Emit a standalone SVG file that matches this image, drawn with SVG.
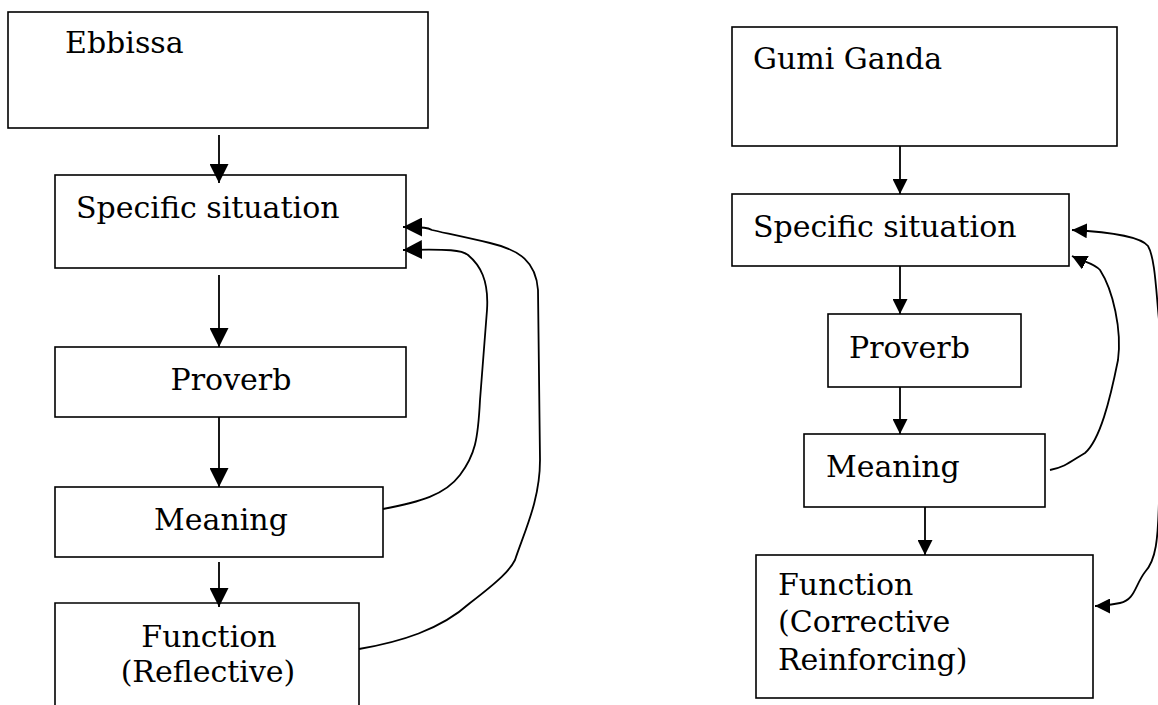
<svg xmlns="http://www.w3.org/2000/svg" width="1158" height="705" viewBox="0 0 1158 705">
<style>
.box{fill:#fff;stroke:#000;stroke-width:1.6}
.t{font-family:"DejaVu Serif","Liberation Serif",serif;font-size:30px;fill:#000}
.c{text-anchor:middle}
.ln{fill:none;stroke:#000;stroke-width:1.8}
</style>
<defs>
<marker id="ab" markerUnits="userSpaceOnUse" markerWidth="19" markerHeight="19" refX="19" refY="9.5" orient="auto-start-reverse"><path d="M0,0 L19,9.5 L0,19 z" fill="#000"/></marker>
<marker id="as" markerUnits="userSpaceOnUse" markerWidth="15" markerHeight="15" refX="15" refY="7.5" orient="auto-start-reverse"><path d="M0,0 L15,7.5 L0,15 z" fill="#000"/></marker>
</defs>
<g id="nodes">
<g id="l-ebbissa"><rect class="box" x="8" y="12" width="420" height="116"/><text class="t" x="65" y="53">Ebbissa</text></g>
<g id="l-situation"><rect class="box" x="55" y="175" width="351" height="93"/><text class="t" x="76" y="218">Specific situation</text></g>
<g id="l-proverb"><rect class="box" x="55" y="347" width="351" height="70"/><text class="t c" x="231" y="390">Proverb</text></g>
<g id="l-meaning"><rect class="box" x="55" y="487" width="328" height="70"/><text class="t c" x="221" y="530">Meaning</text></g>
<g id="l-function"><path class="box" d="M55,712 L55,603 L359,603 L359,712"/><text class="t c" x="209" y="647">Function</text><text class="t c" x="208" y="682">(Reflective)</text></g>
<g id="r-gumi"><rect class="box" x="732" y="27" width="385" height="119"/><text class="t" x="753" y="69">Gumi Ganda</text></g>
<g id="r-situation"><rect class="box" x="732" y="194" width="337" height="72"/><text class="t" x="753" y="237">Specific situation</text></g>
<g id="r-proverb"><rect class="box" x="828" y="314" width="193" height="73"/><text class="t" x="849" y="358">Proverb</text></g>
<g id="r-meaning"><rect class="box" x="804" y="434" width="241" height="73"/><text class="t" x="826" y="477">Meaning</text></g>
<g id="r-function"><rect class="box" x="756" y="555" width="337" height="143"/><text class="t" x="778" y="595">Function</text><text class="t" x="778" y="632">(Corrective</text><text class="t" x="778" y="670">Reinforcing)</text></g>
</g>
<g id="connectors">
<line class="ln" x1="219" y1="135" x2="219" y2="183" marker-end="url(#ab)"/>
<line class="ln" x1="219" y1="275" x2="219" y2="347" marker-end="url(#ab)"/>
<line class="ln" x1="219" y1="417" x2="219" y2="487" marker-end="url(#ab)"/>
<line class="ln" x1="219" y1="562" x2="219" y2="607" marker-end="url(#ab)"/>
<path class="ln" d="M359,649 C400,642 440,630 470,603 C500,580 510,570 515,560 C525,530 540,500 540,460 L538,290 C536,262 520,250 490,243 C460,236 440,232 432,230 C428,228 425,227 403,227" marker-end="url(#ab)"/>
<path class="ln" d="M383,509 C420,502 445,495 460,475 C475,455 478,440 480,400 L487,310 C489,280 480,265 468,255 C462,250 450,249 403,250" marker-end="url(#ab)"/>
<line class="ln" x1="900" y1="146" x2="900" y2="194" marker-end="url(#as)"/>
<line class="ln" x1="900" y1="266" x2="900" y2="314" marker-end="url(#as)"/>
<line class="ln" x1="900" y1="387" x2="900" y2="434" marker-end="url(#as)"/>
<line class="ln" x1="925" y1="507" x2="925" y2="555" marker-end="url(#as)"/>
<path class="ln" d="M1072,230 C1110,232 1140,236 1148,246 C1155,258 1156,290 1159,320 L1159,500 C1158,540 1156,560 1145,572 C1135,585 1135,600 1120,603 C1110,605 1100,606 1095,606" marker-start="url(#as)" marker-end="url(#as)"/>
<path class="ln" d="M1050,470 C1065,467 1070,462 1085,453 C1100,440 1110,400 1118,360 C1122,330 1113,290 1100,270 C1094,263 1084,262 1072,256" marker-end="url(#as)"/>
</g>
</svg>
